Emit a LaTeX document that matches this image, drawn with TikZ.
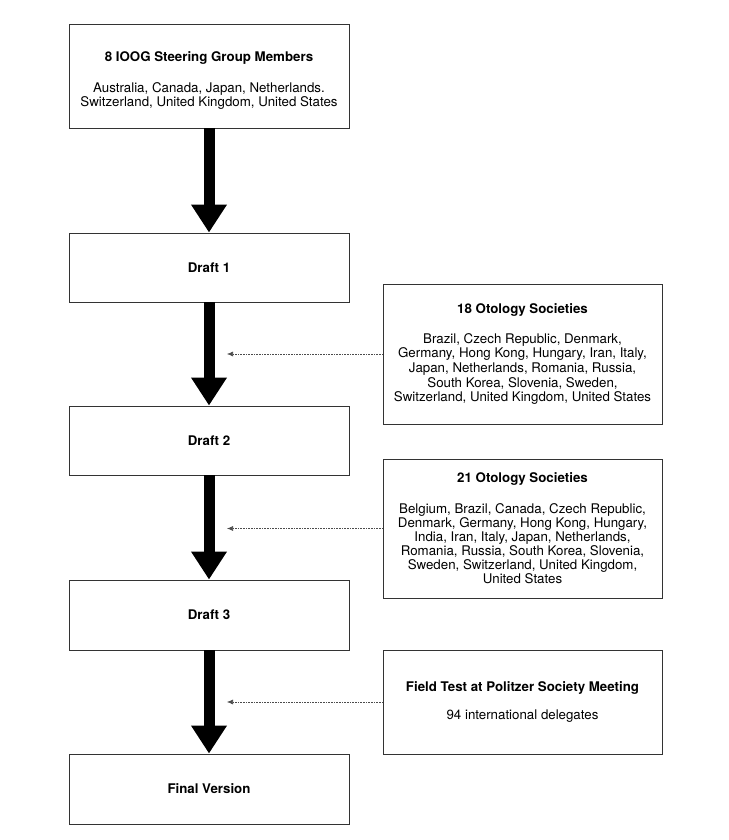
\documentclass[tikz,border=0pt]{standalone}
\usepackage{fontspec}
\setmainfont{TeX Gyre Heros}
\usetikzlibrary{arrows.meta}
\begin{document}
\begin{tikzpicture}[x=1pt,y=-1pt,
  box/.style={draw=black!80, line width=0.9pt, align=center, inner sep=0pt,
    font=\fontsize{13.3pt}{14.6pt}\selectfont},
  lbox/.style={box, minimum width=280pt},
  rbox/.style={box, minimum width=279pt},
  bigarrow/.style={line width=11pt, -{Triangle[width=34pt,length=28pt]}},
  feed/.style={densely dotted, draw=black!70, line width=0.6pt, -{Latex[length=6pt,width=5pt]}}]
\useasboundingbox (0,0) rectangle (728,840);
\node[lbox, minimum height=104pt] (top) at (209,76) {\rule{0pt}{19pt}\textbf{8 IOOG Steering Group Members}\\[16pt]
Australia, Canada, Japan, Netherlands.\\Switzerland, United Kingdom, United States};
\node[lbox, minimum height=69pt] (d1) at (209,267.5) {\textbf{Draft 1}};
\node[lbox, minimum height=69pt] (d2) at (209,440.5) {\textbf{Draft 2}};
\node[lbox, minimum height=70pt] (d3) at (209,615) {\textbf{Draft 3}};
\node[lbox, minimum height=70pt] (fv) at (209,789) {\textbf{Final Version}};
\node[rbox, minimum height=140pt] (o18) at (522.5,354) {\textbf{18 Otology Societies}\\[15.5pt]
Brazil, Czech Republic, Denmark,\\Germany, Hong Kong, Hungary, Iran, Italy,\\Japan, Netherlands, Romania, Russia,\\South Korea, Slovenia, Sweden,\\Switzerland, United Kingdom, United States};
\node[rbox, minimum height=139pt, font=\fontsize{13.3pt}{14pt}\selectfont] (o21) at (522.5,528.5) {\textbf{21 Otology Societies}\\[17pt]
Belgium, Brazil, Canada, Czech Republic,\\Denmark, Germany, Hong Kong, Hungary,\\India, Iran, Italy, Japan, Netherlands,\\Romania, Russia, South Korea, Slovenia,\\Sweden, Switzerland, United Kingdom,\\United States};
\node[rbox, minimum height=104pt] (ft) at (522.5,702) {\textbf{Field Test at Politzer Society Meeting}\\[14pt]
94 international delegates};
\draw[bigarrow] (top.south) -- (d1.north);
\draw[bigarrow] (d1.south) -- (d2.north);
\draw[bigarrow] (d2.south) -- (d3.north);
\draw[bigarrow] (d3.south) -- (fv.north);
\coordinate (tipx) at (227,0);
\draw[feed] (o18.west) -- (o18.west -| tipx);
\draw[feed] (o21.west) -- (o21.west -| tipx);
\draw[feed] (ft.west) -- (ft.west -| tipx);
\end{tikzpicture}
\end{document}
